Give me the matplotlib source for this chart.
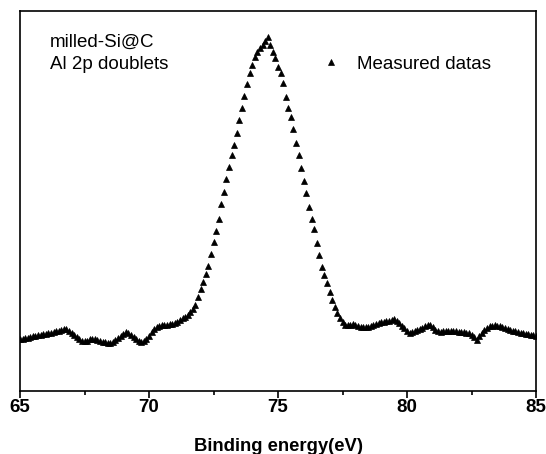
import numpy as np
import matplotlib
matplotlib.use("Agg")
import matplotlib.pyplot as plt
from matplotlib.ticker import MultipleLocator

plt.rcParams['font.family'] = ['Liberation Sans', 'DejaVu Sans']

# scan grid: 65.0 ... 85.0 eV, 0.1 eV step
e_start = 65.0
e_step = 0.1

# intensity (a.u.), one value per 0.1 eV
intensity = [
    52, 52.5, 53, 53.5, 54.5, 55, 55.5, 56, 56.5, 57,          # 65.x
    57.5, 58, 58.5, 59, 60, 60.5, 61, 62.5, 62, 60.5,          # 66.x
    58.5, 56.5, 54, 52, 50.5, 50, 50, 52, 52.5, 52,            # 67.x
    51.5, 50.5, 49.5, 49, 48.5, 48.5, 49.5, 51, 53, 55.5,      # 68.x
    57.5, 59, 58.5, 56.5, 54, 52, 50.5, 49.5, 50.5, 52.5,      # 69.x
    55.5, 59, 62, 64, 65.5, 66, 66.5, 66.5, 67, 67.5,          # 70.x
    68.5, 69.5, 71, 73, 74.5, 76.5, 79.5, 82.5, 86, 94,        # 71.x
    102, 109, 117, 125, 137, 149, 160, 172, 187, 199,          # 72.x
    212, 224, 236, 246, 258, 271, 283, 295, 307, 318,          # 73.x
    326, 334, 339, 343, 346, 350, 354, 346, 339, 333,          # 74.x
    324, 318, 308, 294, 283, 274, 262, 248, 236, 223,          # 75.x
    210, 198, 184, 172, 162, 148, 136, 124, 116, 108,          # 76.x
    99, 91, 84, 78, 73, 69, 66.5, 66, 66.5, 67,                # 77.x
    66, 65, 64.5, 64, 64, 64.5, 65.5, 66.5, 67.5, 68.5,        # 78.x
    69, 69.5, 70, 70.5, 71, 72, 70.5, 68.5, 65.5, 63,          # 79.x
    60.5, 58.5, 59, 60, 61, 62, 63.5, 65, 66, 66.5,            # 80.x
    64, 61, 60, 59.5, 60, 60.5, 60.5, 60.5, 60, 60,            # 81.x
    59.5, 59.5, 59, 58.5, 58, 56.5, 54, 51, 55, 58.5,          # 82.x
    61, 63, 65, 65.5, 66, 65.5, 65, 64, 63.5, 62.5,            # 83.x
    61.5, 60.5, 60, 59.5, 58.5, 58, 57.5, 57, 56.5, 56,        # 84.x
    55.5,                                                      # 85.0
]
energy = np.round(e_start + e_step * np.arange(len(intensity)), 1)

fig = plt.figure(figsize=(5.46, 4.54), dpi=100)
ax = fig.add_axes([20 / 546, 63 / 454, 516 / 546, 380 / 454])

ax.plot(energy, intensity, linestyle='none', marker='^', color='black',
        markersize=5, markeredgewidth=0.5, label='Measured datas')

ax.set_xlim(65, 85)
ax.set_ylim(0, 380)
ax.xaxis.set_major_locator(MultipleLocator(5))
ax.xaxis.set_minor_locator(MultipleLocator(2.5))
ax.tick_params(axis='x', which='major', direction='out', length=5, width=1.2,
               labelsize=13.5, pad=0.5)
ax.tick_params(axis='x', which='minor', direction='out', length=3, width=1.2)
ax.set_yticks([])
for lbl in ax.get_xticklabels():
    lbl.set_fontweight('bold')
for s in ax.spines.values():
    s.set_linewidth(1.2)

ax.set_xlabel('Binding energy(eV)', fontsize=13.3, fontweight='bold', labelpad=16)

ax.text(0.058, 0.918, 'milled-Si@C', transform=ax.transAxes, fontsize=13.5,
        va='center', ha='left')
ax.text(0.058, 0.86, 'Al 2p doublets', transform=ax.transAxes, fontsize=13.5,
        va='center', ha='left')

ax.legend(loc='center left', bbox_to_anchor=(0.581, 0.8605), frameon=False,
          fontsize=13.5, handlelength=1.2, handletextpad=0.77,
          borderpad=0, borderaxespad=0, markerscale=1.0)

fig.savefig('out.png', dpi=100)
